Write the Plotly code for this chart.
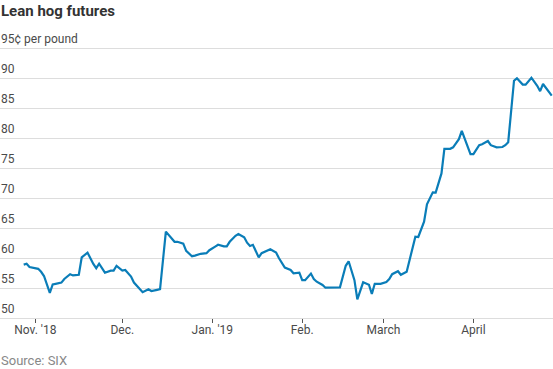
import plotly.graph_objects as go

dates = [
    "2018-10-28", "2018-10-29", "2018-10-30", "2018-11-01", "2018-11-02", "2018-11-03",
    "2018-11-04", "2018-11-06", "2018-11-07", "2018-11-08", "2018-11-10", "2018-11-11",
    "2018-11-13", "2018-11-14", "2018-11-16", "2018-11-17", "2018-11-19", "2018-11-21",
    "2018-11-22", "2018-11-23", "2018-11-25", "2018-11-27", "2018-11-28", "2018-11-29",
    "2018-12-01", "2018-12-02", "2018-12-04", "2018-12-05", "2018-12-07", "2018-12-08",
    "2018-12-10", "2018-12-11", "2018-12-13", "2018-12-14", "2018-12-16", "2018-12-17",
    "2018-12-19", "2018-12-20", "2018-12-22", "2018-12-23", "2018-12-25", "2018-12-26",
    "2018-12-28", "2018-12-30", "2018-12-31", "2019-01-02", "2019-01-03", "2019-01-05",
    "2019-01-06", "2019-01-07", "2019-01-09", "2019-01-10", "2019-01-12", "2019-01-13",
    "2019-01-14", "2019-01-15", "2019-01-17", "2019-01-18", "2019-01-20", "2019-01-21",
    "2019-01-23", "2019-01-24", "2019-01-26", "2019-01-28", "2019-01-29", "2019-01-31",
    "2019-02-01", "2019-02-02", "2019-02-04", "2019-02-05", "2019-02-06", "2019-02-08",
    "2019-02-09", "2019-02-11", "2019-02-13", "2019-02-14", "2019-02-16", "2019-02-17",
    "2019-02-19", "2019-02-20", "2019-02-22", "2019-02-24", "2019-02-25", "2019-02-26",
    "2019-02-28", "2019-03-02", "2019-03-03", "2019-03-04", "2019-03-06", "2019-03-07",
    "2019-03-09", "2019-03-10", "2019-03-12", "2019-03-13", "2019-03-15", "2019-03-16",
    "2019-03-18", "2019-03-19", "2019-03-21", "2019-03-22", "2019-03-24", "2019-03-25",
    "2019-03-26", "2019-03-27", "2019-03-28", "2019-03-30", "2019-03-31", "2019-04-01",
    "2019-04-03", "2019-04-04", "2019-04-06", "2019-04-07", "2019-04-09", "2019-04-11",
    "2019-04-12", "2019-04-13", "2019-04-15", "2019-04-16", "2019-04-18", "2019-04-19",
    "2019-04-21", "2019-04-23", "2019-04-24", "2019-04-25", "2019-04-27", "2019-04-28",
]

prices = [
    58.9, 59.05, 58.5, 58.3, 58.2, 57.7,
    57.0, 54.2, 55.6, 55.7, 55.9, 56.5,
    57.3, 57.1, 57.2, 60.1, 60.9, 59.0,
    58.3, 59.05, 57.55, 57.9, 57.9, 58.7,
    57.9, 58.0, 56.9, 55.9, 54.7, 54.3,
    54.8, 54.5, 54.7, 54.8, 64.4, 63.8,
    62.7, 62.7, 62.4, 61.2, 60.3, 60.4,
    60.7, 60.8, 61.3, 61.9, 62.2, 61.95,
    61.95, 62.7, 63.7, 64.0, 63.45, 62.55,
    62.0, 62.2, 60.1, 60.8, 61.2, 61.45,
    60.9, 59.95, 58.4, 58.0, 57.45, 57.55,
    56.3, 56.3, 57.4, 56.5, 56.05, 55.5,
    55.05, 55.05, 55.1, 55.1, 58.7, 59.45,
    56.3, 53.1, 55.95, 55.55, 54.0, 55.7,
    55.7, 56.0, 56.5, 57.3, 57.8, 57.2,
    57.7, 59.8, 63.55, 63.5, 66.05, 68.95,
    70.95, 70.9, 74.1, 78.2, 78.2, 78.45,
    79.1, 79.8, 81.2, 78.45, 77.3, 77.3,
    78.8, 78.95, 79.5, 78.8, 78.45, 78.5,
    78.8, 79.3, 89.55, 89.95, 88.9, 88.9,
    90.05, 88.7, 87.8, 89.0, 87.8, 87.05,
]

x_tick_vals = ["2018-11-01", "2018-12-01", "2019-01-01", "2019-02-01", "2019-03-01", "2019-04-01"]
x_tick_text = ["Nov. '18", "Dec.", "Jan. '19", "Feb.", "March", "April"]
y_tick_vals = [50, 55, 60, 65, 70, 75, 80, 85, 90, 95]
y_tick_text = ["50", "55", "60", "65", "70", "75", "80", "85", "90", "95¢ per pound"]

title_text = "Lean hog futures"
source_text = "Source: SIX"

FONT = "Roboto, sans-serif"

fig = go.Figure()
fig.add_trace(go.Scatter(
    x=dates, y=prices, mode="lines",
    line=dict(color="#0a7db8", width=2.2),
    hoverinfo="skip", showlegend=False,
))

annotations = []
for v, t in zip(y_tick_vals, y_tick_text):
    annotations.append(dict(
        x=0, xref="paper", y=v, yref="y", text=t, showarrow=False,
        xanchor="left", yanchor="bottom", yshift=0, xshift=-1,
        font=dict(family=FONT, size=12, color="#4a4a4a"),
    ))
annotations.append(dict(
    x=0, xref="paper", y=1, yref="paper", yshift=44, text="<b>" + title_text + "</b>",
    showarrow=False, xanchor="left", yanchor="top", xshift=-1,
    font=dict(family=FONT, size=15, color="#333333"),
))
annotations.append(dict(
    x=0, xref="paper", y=0, yref="paper", yshift=-52, text=source_text,
    showarrow=False, xanchor="left", yanchor="bottom", xshift=-1,
    font=dict(family=FONT, size=13, color="#888888"),
))

fig.update_layout(
    width=553, height=369,
    margin=dict(l=0, r=0, t=44, b=51),
    paper_bgcolor="white", plot_bgcolor="white",
    annotations=annotations,
    xaxis=dict(
        type="date",
        range=["2018-10-19 20:00", "2019-04-28 10:30"],
        tickvals=x_tick_vals, ticktext=x_tick_text,
        ticks="outside", ticklen=4, tickcolor="#555555", tickwidth=1,
        ticklabelstandoff=-3,
        showgrid=False, zeroline=False,
        showline=True, linecolor="#dddddd", linewidth=1,
        tickfont=dict(family=FONT, size=12, color="#4a4a4a"),
    ),
    yaxis=dict(
        range=[50, 95.6667],
        tickvals=y_tick_vals, showticklabels=False,
        showgrid=True, gridcolor="#dddddd", gridwidth=1,
        zeroline=False, showline=False, fixedrange=True,
    ),
)

fig.write_html(
    "out.html",
    config={"displayModeBar": False},
    post_script="document.body.style.margin='0';document.body.style.overflow='hidden';",
)
